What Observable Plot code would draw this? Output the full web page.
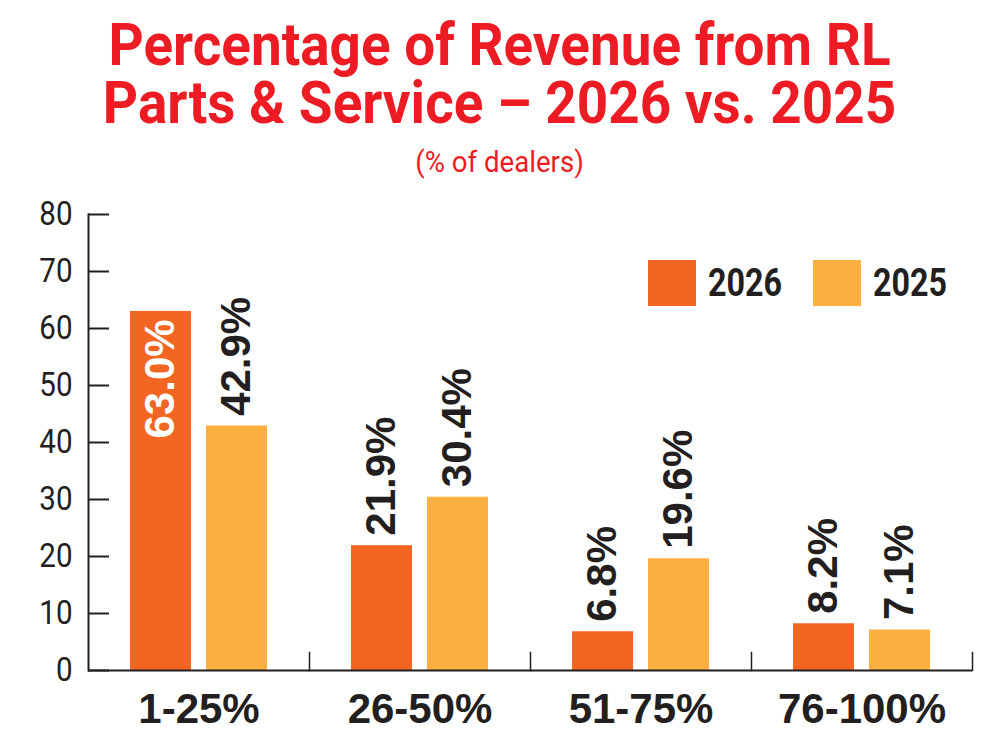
<!DOCTYPE html>
<html>
<head>
<meta charset="utf-8">
<script src="https://cdn.jsdelivr.net/npm/d3@7"></script>
<script src="https://cdn.jsdelivr.net/npm/@observablehq/plot@0.6"></script>
<style>
  body { margin: 0; background: #fff; }
  #wrap { position: relative; width: 1000px; height: 753px; overflow: hidden; background: #fff; }
  #title { position: absolute; left: 0; top: 16px; width: 1000px; text-align: center; color: #ed1c24;
           font-family: Roboto, sans-serif; font-weight: 700; font-size: 59px; line-height: 58px; }
  #title span { display: inline-block; transform: scaleX(0.93); white-space: nowrap; }
  #subtitle { position: absolute; left: 0; top: 147px; width: 1000px; text-align: center; color: #ed1c24;
              font-family: Roboto, sans-serif; font-weight: 400; font-size: 30px; line-height: 30px; }
  #subtitle span { display: inline-block; transform: scaleX(0.92); white-space: nowrap; }
  #chart { position: absolute; left: 0; top: 190px; }
  #legend { position: absolute; left: 648px; top: 260px; display: flex; align-items: center; }
  .item { display: flex; align-items: center; width: 165px; }
  .sw { width: 48px; height: 46px; margin-right: 12px; flex: none; }
  .lab { display: inline-block; font-family: Roboto, sans-serif; font-weight: 700; font-size: 38px;
         line-height: 46px; color: #231f20; transform: scaleX(0.85); transform-origin: left center; white-space: nowrap; }
</style>
</head>
<body>
<div id="wrap">
  <div id="title"></div>
  <div id="subtitle"></div>
  <div id="chart"></div>
  <div id="legend"></div>
</div>
<script>
const titleLines = ["Percentage of Revenue from RL", "Parts & Service \u2013 2026 vs. 2025"];
const subtitle = "(% of dealers)";
const categories = ["1-25%", "26-50%", "51-75%", "76-100%"];
const years = ["2026", "2025"];
const values2026 = [63.0, 21.9, 6.8, 8.2];
const values2025 = [42.9, 30.4, 19.6, 7.1];
const yTicks = [0, 10, 20, 30, 40, 50, 60, 70, 80];
const colors = ["#f26522", "#fbb040"];
const ink = "#231f20";

const rows = categories.flatMap((c, i) => [
  {cat: c, year: years[0], value: values2026[i]},
  {cat: c, year: years[1], value: values2025[i]}
]);

document.getElementById("title").innerHTML =
  titleLines.map(t => `<span>${t.replace(/&/g, "&amp;")}</span>`).join("<br>");
document.getElementById("subtitle").innerHTML = `<span>${subtitle}</span>`;
document.getElementById("legend").innerHTML = years.map((y, i) =>
  `<div class="item"><div class="sw" style="background:${colors[i]}"></div><span class="lab">${y}</span></div>`).join("");

const fmt = d => d.value.toFixed(1) + "%";
const labelStyle = {fx: "cat", x: "year", y: "value", text: fmt, rotate: -90,
  fontSize: 42, fontWeight: 700, fontFamily: "Liberation Sans, Arial, sans-serif"};

const chart = Plot.plot({
  width: 1000,
  height: 563,
  marginLeft: 87,
  marginRight: 27,
  marginTop: 24,
  marginBottom: 83,
  style: {fontFamily: "Roboto, sans-serif", color: ink, background: "transparent", overflow: "visible"},
  fx: {domain: categories, padding: 0, label: null},
  x: {domain: years, paddingInner: 0.195, paddingOuter: 0.536, axis: null},
  y: {domain: [0, 80], label: null},
  color: {domain: years, range: colors},
  marks: [
    Plot.barY(rows, {fx: "cat", x: "year", y: "value", fill: "year"}),
    Plot.ruleY([0], {stroke: ink, strokeWidth: 2}),
    Plot.frame({anchor: "left", facetAnchor: "left", stroke: ink, strokeWidth: 2}),
    Plot.frame({anchor: "right", insetTop: 438, stroke: ink, strokeWidth: 1.5}),
    Plot.axisY({ticks: yTicks, tickSize: 0, tickPadding: 16, fontSize: 34, label: null, fill: ink}),
    Plot.axisY({ticks: yTicks, tickSize: 21, dx: 21, fill: "none", stroke: ink, strokeWidth: 2, label: null}),
    Plot.axisFx({anchor: "bottom", tickSize: 0, tickPadding: 23, fontSize: 42, fontWeight: 700,
      fontFamily: "Liberation Sans, Arial, sans-serif", label: null, lineAnchor: "top", fill: ink}),
    Plot.text(rows.filter(d => d.value < 50), {...labelStyle, textAnchor: "start", dy: -10, fill: ink}),
    Plot.text(rows.filter(d => d.value >= 50), {...labelStyle, textAnchor: "end", dy: 8, fill: "white"})
  ]
});

document.getElementById("chart").appendChild(chart);

// condense the y tick labels (narrow typeface look)
chart.querySelectorAll('g[aria-label="y-axis tick label"] text').forEach(t => {
  const tr = t.getAttribute("transform");
  if (tr) t.setAttribute("transform", tr + " scale(0.87,1)");
});
</script>
</body>
</html>
